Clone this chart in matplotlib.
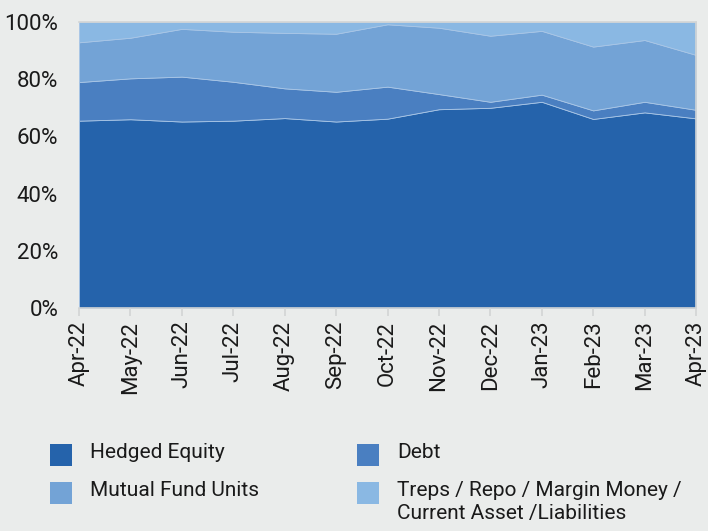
import matplotlib.pyplot as plt
from matplotlib.patches import Rectangle
from matplotlib.ticker import FuncFormatter
import numpy as np

plt.rcParams['font.family'] = ['Liberation Sans Narrow', 'Roboto', 'DejaVu Sans']

months = ["Apr-22", "May-22", "Jun-22", "Jul-22", "Aug-22", "Sep-22", "Oct-22",
          "Nov-22", "Dec-22", "Jan-23", "Feb-23", "Mar-23", "Apr-23"]
hedged_equity = [65.5, 66.0, 65.2, 65.5, 66.4, 65.2, 66.2, 69.5, 70.0, 72.1, 66.1, 68.4, 66.3]
debt = [13.5, 14.3, 15.7, 13.6, 10.4, 10.4, 11.2, 5.3, 2.1, 2.5, 3.0, 3.7, 3.0]
mutual_fund_units = [13.9, 14.2, 16.7, 17.5, 19.4, 20.3, 21.8, 23.2, 23.1, 22.3, 22.3, 21.6, 19.2]
treps_other = [7.1, 5.5, 2.4, 3.4, 3.8, 4.1, 0.8, 2.0, 4.8, 3.1, 8.6, 6.3, 11.5]

labels = ["Hedged Equity", "Debt", "Mutual Fund Units",
          "Treps / Repo / Margin Money /\nCurrent Asset /Liabilities"]
colors = ["#2563ab", "#4a7fc1", "#73a3d6", "#8ab8e3"]
bg = "#eaeceb"

fig = plt.figure(figsize=(7.08, 5.31), dpi=100, facecolor=bg)
ax = fig.add_axes([79 / 708, 1 - 308 / 531, 617 / 708, 286 / 531])
ax.set_facecolor(bg)

x = np.arange(len(months))
ax.stackplot(x, hedged_equity, debt, mutual_fund_units, treps_other,
             colors=colors, edgecolor="#a9c6e6", linewidth=0.6)

ax.set_xlim(0, len(months) - 1)
ax.set_ylim(0, 100)
ax.set_yticks(range(0, 101, 20))
ax.yaxis.set_major_formatter(FuncFormatter(lambda v, _: f"{v:.0f}%"))
ax.set_xticks(x)
ax.set_xticklabels(months, rotation=90)

for side in ["top", "right", "bottom"]:
    ax.spines[side].set_color("#d3d5d5")
    ax.spines[side].set_linewidth(1.2)
ax.spines["left"].set_visible(False)
ax.tick_params(axis="y", length=0, labelsize=16, pad=15, colors="#1a1a1a")
ax.tick_params(axis="x", length=6, width=1.2, color="#d3d5d5",
               labelsize=16, pad=3, labelcolor="#1a1a1a")

# legend in two columns
positions = [(50, 444), (357, 444), (50, 482), (357, 482)]
for (px, py), lab, col in zip(positions, labels, colors):
    fig.patches.append(Rectangle((px / 708, 1 - (py + 22) / 531), 22 / 708, 22 / 531,
                                 transform=fig.transFigure, facecolor=col,
                                 edgecolor="none"))
    fig.text((px + 40) / 708, 1 - (py - 1) / 531, lab, fontsize=15,
             va="top", ha="left", color="#1a1a1a", linespacing=1.3)

fig.savefig("out.png", dpi=100, facecolor=bg)
